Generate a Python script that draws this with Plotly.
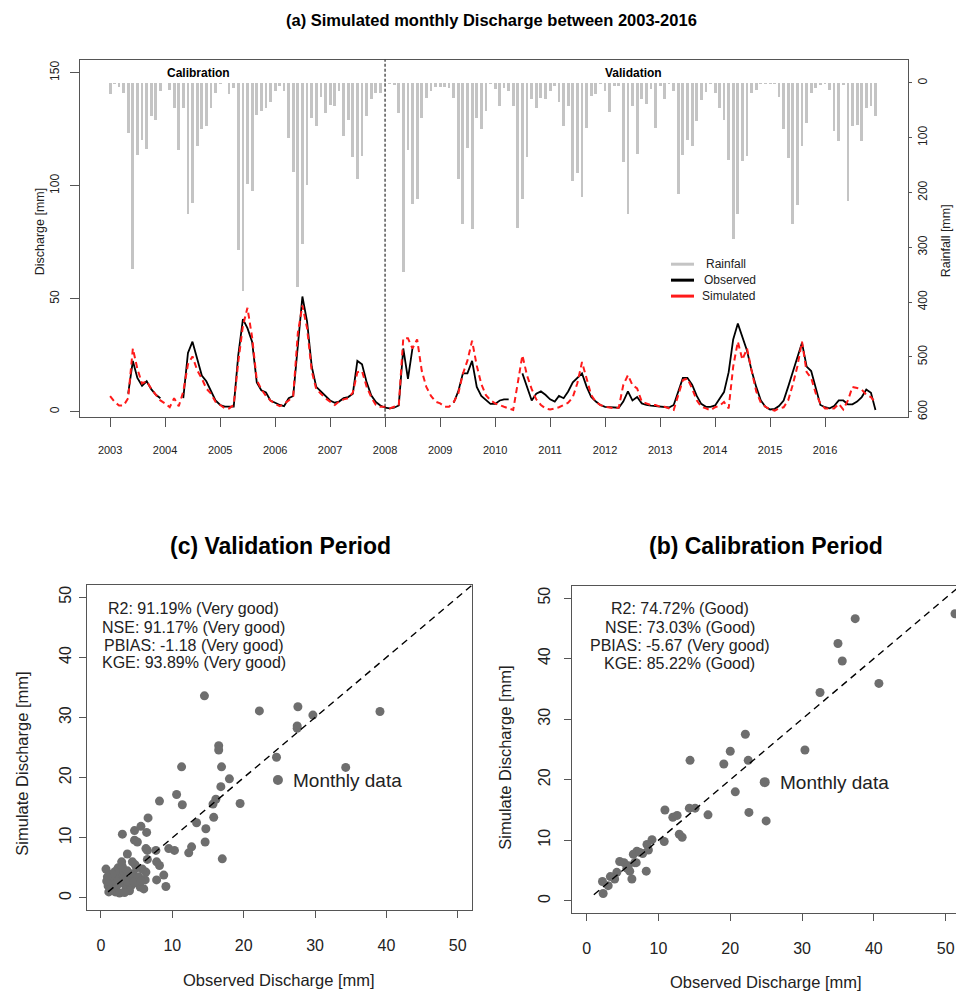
import plotly.graph_objects as go
import pandas as pd

W, H = 956, 994
FONT = "Liberation Sans, Arial, sans-serif"
LINE = "#555555"
TXT = "#222222"

# ---------------- data: top panel (monthly, Jan 2003 - Dec 2016) ----------------
years = list(range(2003, 2017))
year_labels = [str(y) for y in years]

rain_mm = [
    20, 3, 7, 18, 91, 339, 131, 105, 121, 60, 68, 15,      # 2003
    1, 13, 46, 122, 46, 240, 219, 116, 85, 79, 46, 19,     # 2004
    3, 1, 20, 10, 304, 379, 185, 197, 58, 52, 45, 35,      # 2005
    15, 5, 14, 100, 162, 372, 294, 186, 64, 79, 25, 55,    # 2006
    40, 43, 15, 97, 67, 136, 176, 133, 61, 30, 18, 18,     # 2007
    3, 3, 4, 55, 345, 122, 221, 212, 64, 27, 15, 8,        # 2008
    8, 8, 10, 27, 176, 258, 118, 267, 64, 85, 52, 3,       # 2009
    12, 42, 9, 15, 42, 264, 212, 136, 30, 45, 27, 30,      # 2010
    15, 6, 35, 79, 42, 179, 164, 209, 82, 24, 21, 3,       # 2011
    15, 54, 6, 5, 145, 239, 42, 130, 30, 39, 12, 82,       # 2012
    6, 30, 3, 15, 203, 131, 104, 116, 70, 31, 16, 3,       # 2013
    19, 46, 67, 140, 285, 240, 143, 134, 19, 13, 2, 2,     # 2014
    2, 2, 25, 85, 137, 258, 222, 116, 73, 19, 10, 4,       # 2015
    2, 13, 88, 106, 4, 216, 79, 76, 106, 46, 43, 60,       # 2016
]

N = None
obs_mm = [
    N, N, N, N, 8, 22.5, 15, 11.5, 13.5, 10, 7.5, 6,             # 2003
    N, N, N, N, 6, 26, 31, 23, 16, 13.5, 9, 5,                   # 2004
    3, 2.3, 2.3, 2.3, 25, 41, 37, 31, 13, 9.5, 8.5, 5,           # 2005
    4, 3, 2.5, 6, 7, 31, 51, 40, 20, 11, 9, 7,                   # 2006
    5, 4, 4.5, 6, 6.5, 8, 22.5, 21, 13, 7.3, 4.3, 2.8,           # 2007
    1.8, 1.5, 1.8, 2.8, 28, 14.6, 28, N, N, N, N, N,             # 2008
    N, N, N, 4, 9, 17, 17, 22.5, 11, 7, 5, 3.5,                  # 2009
    3.5, 5, 5.5, 5.5, N, N, 17, 10.5, 5, 8, 9, 7.5,              # 2010
    5.5, 4.5, 7, 6, 9, 13, 15, 17, 11, 6.5, 4.5, 3,              # 2011
    2.2, 2, 1.8, 1.8, 4.5, 9, 5, 6.5, 3.7, 3, 2.7, 2.5,          # 2012
    2.2, 2.2, 1.9, 3, 9, 15, 15, 12, 7, 3.5, 2.2, 2.2,           # 2013
    2.8, 5.8, 8.7, 17.5, 32, 39, 33, 27, 18, 11, 5, 2.2,         # 2014
    1, 1.3, 2.5, 5, 11, 18, 24, 30.5, 20, 18, 10, 3,             # 2015
    2, 1.5, 2.5, 5, 5, 3.3, 3.3, 4.5, 6.5, 9.8, 8.4, 0.8,        # 2016
]

sim_mm = [
    6.9, 4.3, 2.8, 2.8, 6, 28, 19, 12.5, 13.5, 10.2, 7.5, 5,     # 2003
    3.7, 2, 6, 2.5, 9, 21, 24.5, 18.4, 14.7, 10.3, 8, 4.4,       # 2004
    3, 1.5, 1.5, 3, 22, 38, 46, 33, 14, 10, 7, 5,                # 2005
    3.5, 2.5, 3.5, 5, 7, 35, 47, 37, 18, 10, 8, 6,               # 2006
    4.5, 3, 4.5, 5.5, 6, 8.5, 17.5, 18, 11, 6.5, 3, 2.2,         # 2007
    2.2, 1.5, 2.2, 2.8, 32.5, 32.5, 28, 32, 18, 11, 7, 4.5,      # 2008
    3.7, 2.2, 2.2, 4.3, 8, 16.8, 22.6, 31.4, 20.4, 12.3, 7.3, 5.1,  # 2009
    3.7, 2.8, 2.2, 1.5, 0.8, 13, 25, 16, 10, 5.5, 3, 1.5,        # 2010
    1, 1.5, 2, 3, 4, 6.5, 12.6, 22, 14.7, 7.4, 4.4, 3,           # 2011
    2.2, 1.8, 1.5, 1.8, 11.8, 16.2, 11.8, 10.3, 4.4, 3.7, 3, 3,  # 2012
    2.2, 2.2, 1.5, 0.8, 7.4, 14, 14.7, 10.3, 5.1, 2.2, 1.5, 0.7, # 2013
    2, 2.8, 4.3, 1.5, 20, 31, 23, 28, 18, 9, 4, 2.2,             # 2014
    1, 0.5, 1.5, 2, 5, 12, 20, 31, 17.5, 15, 8, 3.7,             # 2015
    1.5, 1.5, 1.5, 3.5, 1, 5, 11, 10.5, 9.8, 7.5, 6.5, 4,        # 2016
]

months = pd.date_range("2003-01-01", periods=len(rain_mm), freq="MS")
split_date = "2008-01-01"

# ---------------- data: scatter panels ----------------
val_obs = [14.5, 22.2, 27.6, 29.7, 39.1, 27.5, 27.5, 16.5, 16.5, 24.6, 11.3, 16.9, 34.3, 18.0, 16.8,
           10.6, 8.2, 11.4, 16.1, 15.7, 19.5, 15.8, 6.6, 13.4, 14.7, 14.6, 3.0, 4.7, 5.6, 6.4,
           4.7, 5.1, 6.3, 6.5, 7.7, 9.5, 10.3, 12.7, 12.3, 17.0, 3.7, 6.5, 7.8, 8.2, 6.3,
           7.8, 8.8, 9.1, 0.7,
           1.0, 1.2, 1.5, 1.3, 0.8, 2.0, 2.2, 2.5, 2.8, 3.0, 3.2, 3.5, 3.7, 4.0, 4.2,
           4.5, 4.8, 5.0, 5.3, 5.5, 5.8, 6.0, 2.4, 3.0, 2.6, 1.8, 4.0, 3.3, 6.2, 5.0,
           2.0, 1.6, 2.9, 4.4, 3.6, 1.1, 0.9, 2.3, 4.6, 5.6]
val_sim = [33.6, 31.1, 31.8, 30.4, 31.0, 28.6, 28.2, 25.3, 24.6, 23.4, 21.8, 21.8, 21.7, 19.8, 18.5,
           17.2, 16.1, 15.5, 16.4, 15.6, 15.7, 13.4, 13.3, 12.5, 11.5, 9.3, 10.6, 11.2, 11.9, 10.9,
           9.6, 9.3, 8.2, 7.9, 7.9, 8.2, 7.9, 8.5, 7.5, 6.5, 7.3, 6.4, 6.0, 5.4, 4.3,
           3.0, 3.8, 1.9, 4.8,
           2.0, 3.0, 2.5, 1.5, 2.8, 1.0, 2.0, 3.0, 4.0, 2.5, 3.5, 1.5, 4.5, 3.0, 2.0,
           4.0, 5.5, 2.5, 3.5, 1.8, 4.8, 1.5, 5.0, 5.2, 0.8, 3.6, 1.2, 0.9, 3.0, 5.0,
           4.4, 4.0, 6.0, 6.0, 2.8, 1.0, 3.5, 2.6, 2.6, 2.8]

cal_obs = [37.4, 35.0, 35.6, 40.7, 32.5, 30.4, 22.1, 20.0, 19.1, 22.5, 14.4, 20.7, 22.6, 25.0, 16.9,
           10.9, 12.0, 12.6, 14.3, 15.1, 12.9, 13.3, 10.8, 9.1, 8.4, 8.6, 7.8, 7.0, 6.5, 6.7,
           8.3, 4.6, 5.2, 6.0, 5.6, 6.3, 4.2, 3.3, 3.9, 3.0, 2.2, 2.3, 51.3, 5.8, 6.9, 7.4]
cal_sim = [46.6, 42.5, 39.6, 35.9, 34.4, 24.9, 27.5, 24.7, 22.6, 23.2, 23.2, 18.0, 14.6, 13.2, 14.2,
           15.0, 13.8, 14.1, 15.3, 15.3, 11.0, 10.5, 9.8, 10.1, 9.3, 8.4, 7.8, 8.2, 7.7, 6.3,
           4.9, 6.5, 6.3, 4.9, 5.4, 3.6, 4.7, 4.0, 3.6, 2.5, 3.2, 1.2, 47.4, 5.8, 6.3, 8.0]

val_stats = ["R2: 91.19% (Very good)", "NSE: 91.17% (Very good)",
             "PBIAS: -1.18 (Very good)", "KGE: 93.89% (Very good)"]
cal_stats = ["R2: 74.72% (Good)", "NSE: 73.03% (Good)",
             "PBIAS: -5.67 (Very good)", "KGE: 85.22% (Good)"]
scatter_ticks = [0, 10, 20, 30, 40, 50]
legend_point = (24.8, 19.6)


def px(x):
    return x / W


def py(y):
    return 1 - y / H


fig = go.Figure()

# ---------------- top panel ----------------
fig.add_trace(go.Bar(x=months, y=rain_mm, yaxis="y2", xaxis="x",
                     marker=dict(color="#c4c4c4", line=dict(width=0)),
                     width=0.62 * 30.44 * 86400000, showlegend=False))
fig.add_trace(go.Scatter(x=months, y=obs_mm, mode="lines", xaxis="x", yaxis="y",
                         line=dict(color="black", width=1.8), connectgaps=False,
                         showlegend=False))
fig.add_trace(go.Scatter(x=months, y=sim_mm, mode="lines", xaxis="x", yaxis="y",
                         line=dict(color="#ff1a1a", width=2, dash="6px,4px"),
                         showlegend=False))

# ---------------- scatter panels ----------------
for xa, ya, xs, ys in [("x3", "y3", val_obs, val_sim), ("x4", "y4", cal_obs, cal_sim)]:
    fig.add_trace(go.Scatter(x=xs, y=ys, mode="markers", xaxis=xa, yaxis=ya,
                             marker=dict(color="#6e6e6e", size=9), showlegend=False))
    fig.add_trace(go.Scatter(x=[1, 52], y=[1, 52], mode="lines", xaxis=xa, yaxis=ya,
                             line=dict(color="black", width=1.4, dash="7px,5px"),
                             showlegend=False))
    fig.add_trace(go.Scatter(x=[legend_point[0]], y=[legend_point[1]], mode="markers",
                             xaxis=xa, yaxis=ya, marker=dict(color="#6e6e6e", size=10),
                             showlegend=False))

axis_common = dict(showgrid=False, zeroline=False, showline=True, linecolor=LINE,
                   linewidth=1, ticks="outside", tickcolor=LINE,
                   tickfont=dict(family=FONT, color=TXT))

fig.update_layout(
    width=W, height=H, margin=dict(l=0, r=0, t=0, b=0),
    paper_bgcolor="white", plot_bgcolor="white",
    font=dict(family=FONT, color=TXT),
    bargap=0, hovermode=False,
    xaxis=dict(**axis_common, type="date", domain=[px(80), px(908)], anchor="y",
               range=["2002-06-15", "2017-07-05"], mirror=True,
               tickvals=[f"{y}-01-01" for y in years], ticktext=year_labels,
               ticklen=9, ticklabelstandoff=14),
    yaxis=dict(**axis_common, domain=[py(418), py(60)], anchor="x",
               range=[-2.2, 155.7], tickvals=[0, 50, 100, 150], tickangle=-90,
               ticklen=9, ticklabelstandoff=6),
    yaxis2=dict(**axis_common, overlaying="y", side="right", anchor="x",
                range=[609, -42], tickvals=[0, 100, 200, 300, 400, 500, 600],
                tickangle=-90, ticklen=3, ticklabelstandoff=1),
    xaxis3=dict(**axis_common, domain=[px(86.7), px(472)], anchor="y3",
                range=[-2, 52], tickvals=scatter_ticks, mirror=True, ticklen=7,
                ticklabelstandoff=14),
    yaxis3=dict(**axis_common, domain=[py(912.7), py(587)], anchor="x3",
                range=[-2, 52], tickvals=scatter_ticks, mirror=True, ticklen=7,
                tickangle=-90, ticklabelstandoff=1),
    xaxis4=dict(**axis_common, domain=[px(572.3), 1.0], anchor="y4",
                range=[-2, 51.44], tickvals=scatter_ticks, mirror=True, ticklen=7,
                ticklabelstandoff=14),
    yaxis4=dict(**axis_common, domain=[py(915.7), py(587.7)], anchor="x4",
                range=[-2, 52], tickvals=scatter_ticks, mirror=False, ticklen=7,
                tickangle=-90, ticklabelstandoff=8),
)
fig.layout.xaxis.tickfont.size = 11
fig.layout.yaxis.tickfont.size = 12
fig.layout.yaxis2.tickfont.size = 12
for ax in ("xaxis3", "xaxis4", "yaxis3", "yaxis4"):
    fig.layout[ax].tickfont.size = 16

shapes = []
# calibration / validation split
shapes.append(dict(type="line", xref="x", yref="paper", x0=split_date, x1=split_date,
                   y0=py(418), y1=py(60), line=dict(color="black", width=1, dash="3px,2px")))
# legend of the top panel
for yy, col in [(265, "#c4c4c4"), (281, "black"), (297, "#ff1a1a")]:
    shapes.append(dict(type="line", xref="paper", yref="paper", x0=px(671), x1=px(694),
                       y0=py(yy), y1=py(yy), line=dict(color=col, width=3)))
fig.update_layout(shapes=shapes)

ann = []


def text(x, y, s, size, bold=False, angle=0, xanchor="center", color=TXT):
    ann.append(dict(xref="paper", yref="paper", x=px(x), y=py(y),
                    text=f"<b>{s}</b>" if bold else s, showarrow=False,
                    xanchor=xanchor, yanchor="middle", textangle=angle,
                    font=dict(family=FONT, size=size, color=color)))


text(492, 20, "(a) Simulated monthly Discharge between 2003-2016", 16.5, bold=True, color="black")
text(198, 73, "Calibration", 12, bold=True, color="black")
text(633, 73, "Validation", 12, bold=True, color="black")
text(40, 232, "Discharge [mm]", 12.5, angle=-90)
text(946, 242, "Rainfall [mm]", 12.5, angle=-90)
text(704, 265, "Rainfall", 12, xanchor="left")
text(702, 281, "Observed", 12, xanchor="left")
text(700, 297, "Simulated", 12, xanchor="left")

text(280, 548, "(c) Validation Period", 23, bold=True, color="black")
text(766, 548, "(b) Calibration Period", 23, bold=True, color="black")
text(279, 983, "Observed Discharge [mm]", 16.5)
text(766, 985, "Observed Discharge [mm]", 16.5)
text(22, 766, "Simulate Discharge [mm]", 16.5, angle=-90)
text(505, 760, "Simulate Discharge [mm]", 16.5, angle=-90)

for i, s in enumerate(val_stats):
    text(193.7, [610.7, 629, 647.3, 665][i], s, 16)
for i, s in enumerate(cal_stats):
    text(679.7, [610.7, 629.3, 647.3, 666][i], s, 16)

for xa, ya in [("x3", "y3"), ("x4", "y4")]:
    ann.append(dict(xref=xa, yref=ya, x=26.6, y=legend_point[1], text="Monthly data",
                    showarrow=False, xanchor="left", yanchor="middle",
                    font=dict(family=FONT, size=19, color=TXT)))

fig.update_layout(annotations=ann)

# remove the default 8px page margin so the 956x994 figure fills the window exactly
fig.write_html("out.html", config={"displayModeBar": False, "staticPlot": True},
               post_script="document.body.style.margin='0';document.body.style.overflow='hidden';")
